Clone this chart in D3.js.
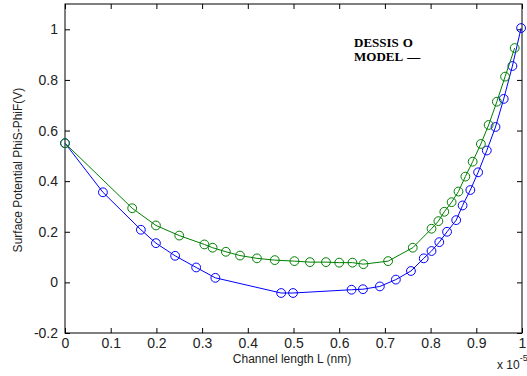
<!DOCTYPE html>
<html>
<head>
<meta charset="utf-8">
<script src="https://cdn.jsdelivr.net/npm/d3@7"></script>
<style>
  body { margin: 0; background: #fff; }
</style>
</head>
<body>
<div id="my_dataviz"></div>
<script>
// channel position (x 1e-5) and surface potential (V)
const blueX = [0, 0.083, 0.166, 0.199, 0.241, 0.287, 0.329, 0.473, 0.499, 0.627, 0.652, 0.689, 0.724, 0.757, 0.785, 0.802, 0.819, 0.836, 0.856, 0.870, 0.887, 0.904, 0.923, 0.942, 0.960, 0.979, 0.998];
const blueY = [0.55, 0.356, 0.208, 0.155, 0.105, 0.059, 0.018, -0.042, -0.042, -0.029, -0.027, -0.016, 0.011, 0.045, 0.095, 0.124, 0.159, 0.200, 0.246, 0.304, 0.365, 0.435, 0.521, 0.614, 0.725, 0.855, 1.005];
const greenX = [0, 0.147, 0.199, 0.250, 0.305, 0.323, 0.352, 0.383, 0.420, 0.459, 0.502, 0.536, 0.571, 0.600, 0.629, 0.653, 0.707, 0.761, 0.802, 0.817, 0.830, 0.846, 0.861, 0.876, 0.892, 0.910, 0.927, 0.945, 0.963, 0.984];
const greenY = [0.55, 0.293, 0.225, 0.185, 0.150, 0.137, 0.121, 0.106, 0.095, 0.088, 0.084, 0.080, 0.080, 0.078, 0.078, 0.072, 0.084, 0.137, 0.212, 0.242, 0.279, 0.317, 0.359, 0.418, 0.477, 0.547, 0.622, 0.714, 0.813, 0.926];
const xTicks = [0, 0.1, 0.2, 0.3, 0.4, 0.5, 0.6, 0.7, 0.8, 0.9, 1];
const yTicks = [-0.2, 0, 0.2, 0.4, 0.6, 0.8, 1];
const legendLines = [["DESSIS", "O"], ["MODEL", "\u2014"]];

var margin = { top: 4, right: 5, bottom: 43, left: 65 },
    width = 527 - margin.left - margin.right,
    height = 376 - margin.top - margin.bottom;

var sans = "Arial, 'Liberation Sans', sans-serif";

var svg = d3.select("#my_dataviz")
    .append("svg")
    .attr("width", 527)
    .attr("height", 376)
    .append("g")
    .attr("transform", `translate(${margin.left},${margin.top})`);

var x = d3.scaleLinear().domain([0, 1]).range([0, 457]);
var y = d3.scaleLinear().domain([-0.2, 1.1]).range([height, 0]);

// box
svg.append("rect")
    .attr("x", 0).attr("y", 0)
    .attr("width", width).attr("height", height)
    .attr("fill", "none")
    .attr("stroke", "#000");

// bottom / left axes with inward ticks (plain hyphen for negatives)
var fmt = d => d === 0 ? "0" : String(+d.toFixed(1));
svg.append("g")
    .attr("transform", `translate(0, ${height})`)
    .call(d3.axisBottom(x).tickValues(xTicks).tickSize(-5).tickPadding(5).tickFormat(fmt));
svg.append("g")
    .call(d3.axisLeft(y).tickValues(yTicks).tickSize(-5).tickPadding(7).tickFormat(fmt));
// top / right ticks
svg.append("g")
    .call(d3.axisTop(x).tickValues(xTicks).tickSize(-5).tickFormat(""));
svg.append("g")
    .attr("transform", `translate(${width}, 0)`)
    .call(d3.axisRight(y).tickValues(yTicks).tickSize(-5).tickFormat(""));

svg.selectAll(".domain").remove();
svg.selectAll(".tick line").attr("stroke", "#000");
svg.selectAll(".tick text")
    .attr("font-family", sans)
    .attr("font-size", "14px")
    .attr("fill", "#222");

// series
function drawSeries(xs, ys, color) {
    var data = xs.map((d, i) => ({ x: d, y: ys[i] }));
    svg.append("path")
        .datum(data)
        .attr("fill", "none")
        .attr("stroke", color)
        .attr("stroke-width", 1)
        .attr("d", d3.line()
            .x(d => x(d.x))
            .y(d => y(d.y)));
    svg.append("g")
        .selectAll("circle")
        .data(data)
        .join("circle")
        .attr("cx", d => x(d.x))
        .attr("cy", d => y(d.y))
        .attr("r", 4.4)
        .attr("fill", "none")
        .attr("stroke", color)
        .attr("stroke-width", 1);
}
drawSeries(blueX, blueY, "#0000ff");
drawSeries(greenX, greenY, "#008000");

// legend text
var leg = svg.append("g")
    .selectAll("text")
    .data(legendLines)
    .join("text")
    .attr("x", 289)
    .attr("y", (d, i) => 43 + i * 14)
    .style("font-family", "'Liberation Serif', 'DejaVu Serif', serif")
    .attr("font-weight", "bold")
    .attr("font-size", "13px")
    .attr("fill", "#000");
leg.append("tspan").text(d => d[0]);
leg.append("tspan").attr("dx", 4).text(d => d[1]);

// axis labels
svg.append("text")
    .attr("x", 227)
    .attr("y", 359)
    .attr("text-anchor", "middle")
    .attr("font-family", sans)
    .attr("font-size", "12px")
    .attr("fill", "#222")
    .text("Channel length L (nm)");
svg.append("text")
    .attr("transform", `translate(${-43}, 166) rotate(-90)`)
    .attr("text-anchor", "middle")
    .attr("font-family", sans)
    .attr("font-size", "12px")
    .attr("fill", "#222")
    .text("Surface Potential PhiS-PhiF(V)");

var exp = svg.append("text")
    .attr("x", 432)
    .attr("y", 365)
    .attr("font-family", sans)
    .attr("font-size", "12px")
    .attr("fill", "#222")
    .text("x 10");
exp.append("tspan")
    .attr("dy", -8)
    .attr("font-size", "9px")
    .text("-5");
</script>
</body>
</html>
